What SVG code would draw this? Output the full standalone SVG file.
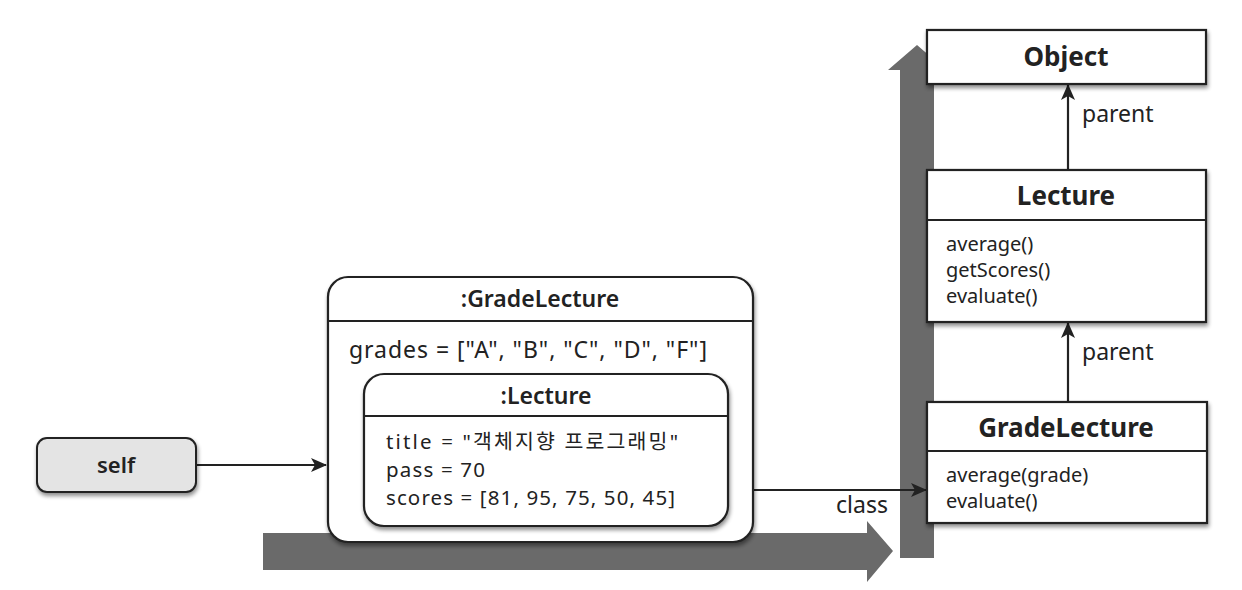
<svg xmlns="http://www.w3.org/2000/svg" width="1242" height="590" viewBox="0 0 1242 590">
<defs>
<style>
text{font-family:"Noto Sans","Open Sans","Noto Sans CJK KR",sans-serif;fill:#222}
.box{fill:#fff;stroke:#222;stroke-width:2.2}
.sep{stroke:#222;stroke-width:1.8}
.title{font-weight:bold;font-size:26px;text-anchor:middle}
.otitle{font-weight:600;font-size:23px;text-anchor:middle}
.m{font-size:20px}
.a{font-size:23px}
.b{font-size:20.5px}
.lbl{font-size:23px}
.conn{stroke:#222;stroke-width:2.2;fill:none}
.big{fill:#6a6a6a}
</style>
<marker id="ah" viewBox="0 0 16 14" refX="15" refY="7" markerWidth="16" markerHeight="14" markerUnits="userSpaceOnUse" orient="auto">
<path d="M0,0 L16,7 L0,14 L4,7 Z" fill="#222"/>
</marker>
<filter id="sh" x="-10%" y="-10%" width="120%" height="130%">
<feGaussianBlur in="SourceAlpha" stdDeviation="2"/>
<feOffset dx="1" dy="3" result="b"/>
<feComponentTransfer><feFuncA type="linear" slope="0.45"/></feComponentTransfer>
<feMerge><feMergeNode/><feMergeNode in="SourceGraphic"/></feMerge>
</filter>
</defs>
<rect width="1242" height="590" fill="#fff"/>
<g id="flow-arrows">
<path class="big" d="M263,533 L867,533 L867,521 L893,551 L867,582 L867,570 L263,570 Z"/>
<path class="big" d="M900,558 L900,70 L888,70 L917,45 L946,70 L934,70 L934,558 Z"/>
</g>
<g id="connectors">
<line class="conn" x1="196" y1="465" x2="326" y2="465" marker-end="url(#ah)"/>
<line class="conn" x1="753" y1="490" x2="926" y2="490" marker-end="url(#ah)"/>
<line class="conn" x1="1068" y1="170" x2="1068" y2="85" marker-end="url(#ah)"/>
<line class="conn" x1="1068" y1="402" x2="1068" y2="323" marker-end="url(#ah)"/>
<text class="lbl" x="1082" y="122">parent</text>
<text class="lbl" x="1082" y="360">parent</text>
<text class="lbl" x="836" y="513">class</text>
</g>
<g id="self">
<rect x="37" y="438" width="159" height="54" rx="10" fill="#e4e4e4" stroke="#222" stroke-width="2" filter="url(#sh)"/>
<text x="116" y="473" text-anchor="middle" font-weight="600" font-size="22">self</text>
</g>
<g id="gradelecture-instance">
<rect class="box" x="328" y="277" width="425" height="265" rx="20" filter="url(#sh)"/>
<line class="sep" x1="328" y1="321" x2="753" y2="321"/>
<text class="otitle" x="540" y="307">:GradeLecture</text>
<text class="a" x="349" y="358" textLength="358" lengthAdjust="spacing">grades = ["A", "B", "C", "D", "F"]</text>
</g>
<g id="lecture-instance">
<rect class="box" x="364" y="374" width="364" height="152" rx="20" filter="url(#sh)"/>
<line class="sep" x1="364" y1="416" x2="728" y2="416"/>
<text class="otitle" x="546" y="404">:Lecture</text>
<text class="b" x="386" y="449" textLength="292" lengthAdjust="spacing">title = "객체지향 프로그래밍"</text>
<text class="b" x="386" y="477" textLength="99" lengthAdjust="spacing">pass = 70</text>
<text class="b" x="386" y="505" textLength="289" lengthAdjust="spacing">scores = [81, 95, 75, 50, 45]</text>
</g>
<g id="object-class">
<rect class="box" x="927" y="30" width="279" height="54" filter="url(#sh)"/>
<text class="title" x="1066" y="66">Object</text>
</g>
<g id="lecture-class">
<rect class="box" x="927" y="170" width="279" height="152" filter="url(#sh)"/>
<line class="sep" x1="927" y1="220" x2="1206" y2="220"/>
<text class="title" x="1066" y="205">Lecture</text>
<text class="m" x="946" y="251">average()</text>
<text class="m" x="946" y="277">getScores()</text>
<text class="m" x="946" y="303">evaluate()</text>
</g>
<g id="gradelecture-class">
<rect class="box" x="927" y="402" width="280" height="121" filter="url(#sh)"/>
<line class="sep" x1="927" y1="451" x2="1207" y2="451"/>
<text class="title" x="1066" y="437">GradeLecture</text>
<text class="m" x="946" y="482">average(grade)</text>
<text class="m" x="946" y="508">evaluate()</text>
</g>
</svg>
